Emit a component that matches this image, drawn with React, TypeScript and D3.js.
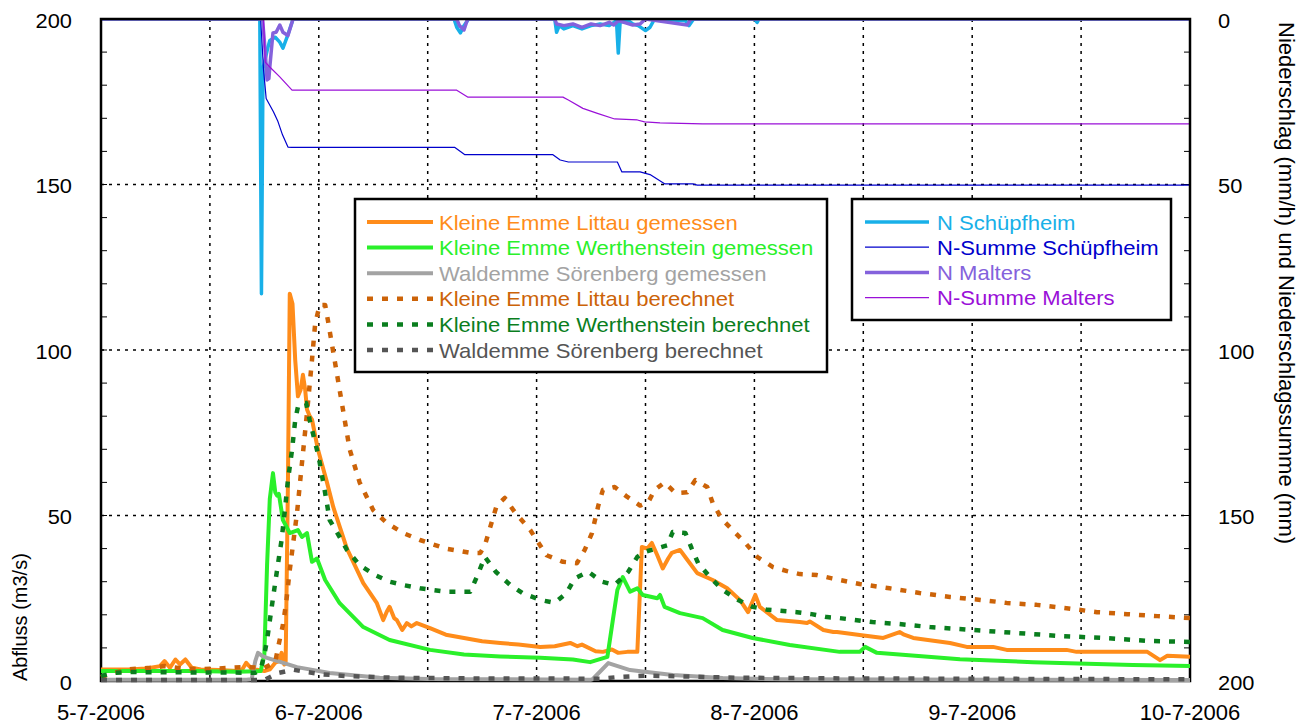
import React from "react";
import * as d3 from "d3";

// ---------- data (hours since 5-7-2006 00:00, value) ----------
const dayLabels = ["5-7-2006", "6-7-2006", "7-7-2006", "8-7-2006", "9-7-2006", "10-7-2006"];
const leftTicks = [0, 50, 100, 150, 200];
const rightTicks = [0, 50, 100, 150, 200];

const littauGem: [number, number][] = [
  [0, 3.5], [3, 3.5], [5, 3.8], [6.5, 4.5], [7, 6], [7.6, 4], [8.2, 6.5], [8.7, 5], [9.3, 6.5], [10, 4], [11, 3.5], [13, 3.3],
  [15, 3], [15.5, 3.2], [16, 5.5], [16.5, 4], [17, 3.5], [18, 3], [18.6, 3.5], [19.2, 5.5], [19.6, 6], [19.9, 8.5], [20.2, 5],
  [20.35, 6], [20.6, 60], [20.8, 117], [21.1, 114], [21.4, 97], [21.7, 86], [22.0, 88], [22.25, 92.5], [22.5, 88], [22.7, 82],
  [23.0, 80], [23.25, 79], [23.9, 70], [24.9, 60], [25.6, 52.5], [27.1, 40], [28.9, 29.6], [30.4, 23.5], [31.1, 18.4],
  [31.5, 21], [31.8, 22.4], [32.3, 19], [32.6, 18.4], [33.2, 15.4], [33.7, 17.5], [34.2, 16.5], [34.8, 17.5], [36.25, 16],
  [38, 14], [40, 13], [42, 12], [44, 11.5], [46, 11], [48.4, 10.3], [50, 10.5], [51.7, 11.5], [52.5, 10.5], [53, 11],
  [54.5, 9], [55.3, 8.8], [56.3, 9.5], [57.0, 8.5], [58, 8.8], [59.1, 8.8], [59.6, 40.5], [60.2, 40], [60.7, 41.7],
  [61.3, 38], [61.9, 34], [62.5, 37], [62.9, 38.7], [63.8, 39.6], [64.5, 37], [65.7, 32.6], [67.4, 30.5], [69, 28],
  [70.4, 24.5], [71.3, 20.8], [72.1, 26], [72.6, 22.4], [74.5, 18.4], [77.0, 17.8], [77.8, 17.5], [78.1, 18], [79.6, 15.4],
  [80.7, 14.8], [81.1, 14.8], [83.6, 13.9], [86.2, 13], [88.0, 14.8], [88.5, 14], [89.5, 13], [93.55, 11.5], [95.4, 10.3],
  [98.3, 10.3], [99.8, 9.4], [106.4, 9.4], [107.5, 8.8], [115.3, 8.8], [116.7, 6.3], [117.5, 7.6], [120, 7.3],
];

const werthGem: [number, number][] = [
  [0, 3], [10, 3], [15, 2.8], [17.6, 3], [18.0, 8], [18.3, 35], [18.6, 55], [18.95, 62.8], [19.2, 57], [19.4, 56],
  [19.6, 56.5], [20.05, 48.6], [20.8, 44.7], [21.7, 45.6], [22.15, 43.5], [22.7, 44.7], [23.25, 36], [23.8, 37],
  [24.7, 30.5], [26.3, 23.5], [28.9, 16.3], [31.8, 12.4], [36.25, 9.4], [40, 8], [44, 7.4], [48.4, 7], [52, 6.5],
  [53.9, 5.7], [55.8, 7.3], [56.4, 18.4], [56.9, 27.5], [57.5, 31.4], [58.3, 27], [59.1, 28], [59.7, 26], [61.3, 25],
  [61.6, 26], [62.1, 22.4], [63.8, 20.5], [66.3, 19], [68.5, 15.4], [71.8, 13], [75.9, 10.9], [81.4, 8.8], [83.6, 8.8],
  [84.2, 10.3], [85.5, 8.5], [94.65, 6.6], [102.7, 5.7], [113.7, 4.8], [120, 4.5],
];

const waldGem: [number, number][] = [
  [0, 0.4], [16, 0.4], [16.6, 0.5], [17.0, 6], [17.3, 8.5], [17.8, 7.5], [18.3, 7], [21.6, 4.2], [25.2, 2.4], [30.7, 1],
  [36, 0.6], [54, 0.4], [54.2, 0.6], [55.9, 5.4], [58.3, 3.3], [63, 1.8], [68.5, 0.9], [75, 0.5], [120, 0.3],
];

const littauBer: [number, number][] = [
  [0, 1.2], [1.5, 2.5], [3, 3.5], [5.4, 4], [7, 4.5], [9, 3.8], [11, 3.6], [13, 3.8], [15.8, 4.2], [18, 4], [19.2, 5.7],
  [19.5, 10], [20.05, 17], [20.4, 23.6], [20.8, 33.5], [21.6, 50.8], [22.15, 66], [22.7, 81], [23.25, 97], [23.6, 108],
  [24.1, 113.6], [24.7, 113.6], [25.0, 109], [25.8, 96], [26.6, 83], [27.4, 70], [28.5, 60], [30.0, 51.6], [31.5, 47.7],
  [33.3, 44.7], [35.15, 42.6], [38, 40], [40.7, 38.7], [41.8, 38.7], [42.3, 41], [43.6, 53], [44.5, 55.3], [45.6, 51],
  [47.3, 45.6], [49.1, 38], [50.9, 36], [52.45, 35.6], [53.3, 39.6], [54.1, 44.7], [54.8, 53], [55.3, 57.7], [56.6, 58.6],
  [58.0, 55.6], [59.4, 53], [60.3, 54], [61.0, 57.7], [62.1, 60], [63.3, 56.8], [64.6, 57], [65.5, 60.7], [66.8, 58.6],
  [67.4, 53.8], [68.4, 49], [69.6, 45.6], [71.0, 41.7], [72.3, 37.5], [74.05, 34.4], [75.6, 33.2], [77, 32.3], [78.9, 32],
  [80.55, 31], [83.6, 29.3], [86.9, 28], [90.2, 26.6], [93.55, 25.4], [96.9, 24.5], [99.8, 23.6], [103.1, 23], [106.4, 22],
  [109.75, 20.8], [113.1, 20.2], [116.4, 19.6], [120, 19],
];

const werthBer: [number, number][] = [
  [0, 1.5], [1.5, 2.5], [3, 2.7], [17, 2.5], [17.6, 3.5], [18.0, 8], [18.3, 12.4], [18.95, 25], [19.4, 33.5], [19.9, 42.6],
  [20.3, 52.6], [20.6, 60.7], [21.05, 69.8], [21.4, 78.8], [21.7, 82.8], [22.15, 84], [22.6, 84], [23.0, 78.8],
  [23.8, 69.8], [24.1, 66], [24.7, 56.8], [25.2, 48.6], [26.3, 43.5], [27.1, 39.6], [28.5, 35], [30.2, 32], [31.8, 30],
  [33.3, 29], [35.15, 28], [38, 27], [40.7, 27], [41.5, 32], [42.3, 37.5], [43.5, 33], [45.1, 29], [46.5, 26.5],
  [48.4, 24.5], [50.0, 23.6], [51.3, 26.6], [52.2, 31], [53.7, 33], [55.2, 30], [56.6, 29], [58.1, 33], [59.1, 37.5],
  [59.9, 39], [62.4, 41], [63.0, 45], [64.4, 44.7], [65.1, 40], [65.8, 35.6], [67.1, 31.4], [68.5, 27.5], [70.2, 24.5],
  [71.8, 22.4], [73.5, 21.5], [76.7, 20.8], [78.3, 20.2], [80, 19.3], [81.4, 19], [85, 17.8], [88, 17.2], [91.35, 16.3],
  [96.1, 15.4], [100.9, 14.5], [105.7, 13.6], [110.4, 13], [115.6, 12.1], [120, 11.8],
];

const waldBer: [number, number][] = [
  [0, 0.3], [18, 0.3], [18.5, 1], [19.5, 2.4], [21.2, 3.4], [22.7, 2.7], [24.5, 2], [27, 1.5], [32, 1], [40, 0.8],
  [55, 0.7], [57, 1.2], [60, 1.6], [64, 1.4], [70, 1], [80, 0.8], [120, 0.5],
];

const nSchuepfheim: [number, number][] = [
  [0, 0], [17.5, 0], [17.68, 83], [17.85, 15], [18.1, 12], [18.4, 8.5], [18.6, 6.5], [19.2, 5.5], [19.7, 7], [20.05, 8.8],
  [20.5, 5.5], [21.05, 1], [21.15, 0], [38.9, 0], [39.2, 2.5], [39.6, 4.2], [40.0, 2], [40.5, 0], [50.0, 0], [50.2, 4],
  [50.5, 2], [51, 3], [52, 2], [53, 3], [54, 2], [55, 1.5], [56, 2], [56.8, 0.5], [57.0, 10.3], [57.2, 1], [58, 0.3],
  [58.6, 1.5], [59.2, 2], [60, 3.5], [60.5, 2.5], [61, 0], [64.4, 0.5], [64.8, 2], [65.3, 0], [72, 0], [72.3, 1],
  [72.5, 0], [120, 0],
];

const nSummeSchuepfheim: [number, number][] = [
  [0, 0], [17.6, 0], [17.9, 15], [18.2, 24], [19.0, 28], [19.5, 31], [20.0, 35], [20.6, 38.7], [21.0, 38.8], [39.0, 38.8],
  [40.1, 41], [49.8, 41], [50.6, 42.6], [51.5, 43.2], [56.9, 43.2], [57.4, 46.2], [59.4, 46.2], [60.5, 47], [62.1, 49.8],
  [65.2, 49.8], [65.7, 50.2], [120, 50.2],
];

const nMalters: [number, number][] = [
  [0, 0], [17.8, 0], [18.1, 10], [18.3, 18.4], [18.5, 18], [18.6, 14.5], [18.95, 4.2], [19.3, 4], [19.7, 1.8],
  [20.05, 4], [20.6, 5], [21.05, 1], [21.15, 0], [39.2, 0], [39.5, 2], [40, 3.3], [40.4, 0], [50, 0], [50.2, 1.5],
  [51, 2], [52, 1.5], [53, 2.5], [54, 1.5], [55, 2], [56, 1], [56.5, 1.8], [57, 0.5], [58.6, 1.8], [59.4, 1.5],
  [60, 0], [64.6, 1.8], [65, 0], [120, 0],
];

const nSummeMalters: [number, number][] = [
  [0, 0], [17.9, 0], [18.1, 13], [18.6, 14.5], [19.7, 17.5], [21.05, 21.5], [39.2, 21.5], [40.4, 23.6], [50.9, 23.6],
  [51.5, 24.5], [53.1, 27], [54.7, 28.5], [56.6, 30.2], [59.1, 30.5], [59.9, 31.1], [61.6, 31.4], [66.3, 31.7],
  [120, 31.7],
];

// ---------- layout ----------
const W = 1306;
const H = 725;
const L = 101, R = 1190, T = 19, B = 681;

const x = d3.scaleLinear().domain([0, 120]).range([L, R]);
const yL = d3.scaleLinear().domain([0, 200]).range([B, T]);
const yR = d3.scaleLinear().domain([0, 200]).range([T, B]);

const FONT = "'Liberation Sans', Arial, Helvetica, sans-serif";

type S = { name: string; data: [number, number][]; color: string; width: number; dash?: string; axis: "L" | "R" };

const dischargeSeries: S[] = [
  { name: "Kleine Emme Littau gemessen", data: littauGem, color: "#ff8c1a", width: 4, axis: "L" },
  { name: "Kleine Emme Werthenstein gemessen", data: werthGem, color: "#2af02a", width: 4, axis: "L" },
  { name: "Waldemme Sörenberg gemessen", data: waldGem, color: "#a3a3a3", width: 4, axis: "L" },
  { name: "Kleine Emme Littau berechnet", data: littauBer, color: "#cc6308", width: 4.5, dash: "6 9", axis: "L" },
  { name: "Kleine Emme Werthenstein berechnet", data: werthBer, color: "#0a7e1e", width: 4.5, dash: "6 9", axis: "L" },
  { name: "Waldemme Sörenberg berechnet", data: waldBer, color: "#555555", width: 4.5, dash: "6 9", axis: "L" },
];

const precipSeries: S[] = [
  { name: "N Schüpfheim", data: nSchuepfheim, color: "#18b0e8", width: 3.5, axis: "R" },
  { name: "N-Summe Schüpfheim", data: nSummeSchuepfheim, color: "#0000cc", width: 1.2, axis: "R" },
  { name: "N Malters", data: nMalters, color: "#8462dc", width: 3.5, axis: "R" },
  { name: "N-Summe Malters", data: nSummeMalters, color: "#9a10d8", width: 1.2, axis: "R" },
];

function pathFor(s: S) {
  const y = s.axis === "L" ? yL : yR;
  return d3.line<[number, number]>().x((d) => x(d[0])).y((d) => y(d[1]))(s.data) || "";
}

export default function App() {
  const gridHours = d3.range(12, 120, 12);
  const gridVals = [50, 100, 150];
  const minor = d3.range(10, 200, 10);

  const leg1 = { x: 355, y: 199, w: 472, h: 173, row0: 222, step: 25.6, lx0: 367, lx1: 433, tx: 439 };
  const leg2 = { x: 852, y: 199, w: 319, h: 121, row0: 222, step: 25.2, lx0: 865, lx1: 929, tx: 937 };

  return (
    <svg width={W} height={H} style={{ position: "absolute", left: 0, top: 0, background: "#fff" }} fontFamily={FONT}>
      <defs>
        <clipPath id="plot">
          <rect x={L - 1} y={T - 2} width={R - L + 2} height={B - T + 4} />
        </clipPath>
        <clipPath id="plotP">
          <rect x={L} y={T} width={R - L} height={B - T} />
        </clipPath>
      </defs>
      <rect x={0} y={0} width={W} height={H} fill="#fff" />

      {/* grid */}
      {gridHours.map((h) => (
        <line key={"gv" + h} x1={x(h)} x2={x(h)} y1={T} y2={B} stroke="#000" strokeWidth={1.5} strokeDasharray="3 5" />
      ))}
      {gridVals.map((v) => (
        <line key={"gh" + v} x1={L} x2={R} y1={yL(v)} y2={yL(v)} stroke="#000" strokeWidth={1.5} strokeDasharray="3 5" />
      ))}

      {/* minor ticks */}
      {minor.map((v) => (
        <g key={"mt" + v}>
          <line x1={L} x2={L + 6} y1={yL(v)} y2={yL(v)} stroke="#000" strokeWidth={1} />
          <line x1={R} x2={R - 6} y1={yR(v)} y2={yR(v)} stroke="#000" strokeWidth={1} />
        </g>
      ))}

      {/* precipitation series (under the frame) */}
      <g clipPath="url(#plotP)" fill="none" strokeLinejoin="round">
        {precipSeries.map((s) => (
          <path key={s.name} d={pathFor(s)} stroke={s.color} strokeWidth={s.width} />
        ))}
      </g>

      {/* frame */}
      <rect x={L} y={T} width={R - L} height={B - T} fill="none" stroke="#000" strokeWidth={2.5} />

      {/* discharge series */}
      <g clipPath="url(#plot)" fill="none" strokeLinejoin="round">
        {dischargeSeries.map((s) => (
          <path key={s.name} d={pathFor(s)} stroke={s.color} strokeWidth={s.width} strokeDasharray={s.dash} />
        ))}
      </g>

      {/* left tick labels */}
      {leftTicks.map((v) => (
        <text key={"lt" + v} transform={`translate(72,${yL(v) + 8.5}) scale(1.12,1)`} textAnchor="end" fontSize={19.5} fill="#000">
          {v}
        </text>
      ))}
      {/* right tick labels */}
      {rightTicks.map((v) => (
        <text key={"rt" + v} transform={`translate(1218,${yR(v) + 8.5}) scale(1.12,1)`} textAnchor="start" fontSize={19.5} fill="#000">
          {v}
        </text>
      ))}
      {/* bottom labels */}
      {dayLabels.map((d, i) => (
        <text key={d} x={x(i * 24)} y={720} textAnchor="middle" fontSize={22} fill="#000">
          {d}
        </text>
      ))}

      {/* axis titles */}
      <text transform={`translate(27,${B}) rotate(-90)`} textAnchor="start" fontSize={20} fill="#000">
        Abfluss (m3/s)
      </text>
      <text transform={`translate(1279,22) rotate(90)`} textAnchor="start" fontSize={22} fill="#000">
        Niederschlag (mm/h) und Niederschlagssumme (mm)
      </text>

      {/* legend 1 */}
      <rect x={leg1.x} y={leg1.y} width={leg1.w} height={leg1.h} fill="#fff" stroke="#000" strokeWidth={2.5} />
      {dischargeSeries.map((s, i) => {
        const yy = leg1.row0 + i * leg1.step;
        return (
          <g key={"l1" + s.name}>
            <line x1={leg1.lx0} x2={leg1.lx1} y1={yy} y2={yy} stroke={s.color} strokeWidth={s.width} strokeDasharray={s.dash} />
            <text transform={`translate(${leg1.tx},${yy + 7.5}) scale(1.05,1)`} fontSize={21} fill={s.color}>
              {s.name}
            </text>
          </g>
        );
      })}

      {/* legend 2 */}
      <rect x={leg2.x} y={leg2.y} width={leg2.w} height={leg2.h} fill="#fff" stroke="#000" strokeWidth={2.5} />
      {precipSeries.map((s, i) => {
        const yy = leg2.row0 + i * leg2.step;
        return (
          <g key={"l2" + s.name}>
            <line x1={leg2.lx0} x2={leg2.lx1} y1={yy} y2={yy} stroke={s.color} strokeWidth={s.width} />
            <text transform={`translate(${leg2.tx},${yy + 7.5}) scale(1.05,1)`} fontSize={21} fill={s.color}>
              {s.name}
            </text>
          </g>
        );
      })}
    </svg>
  );
}
